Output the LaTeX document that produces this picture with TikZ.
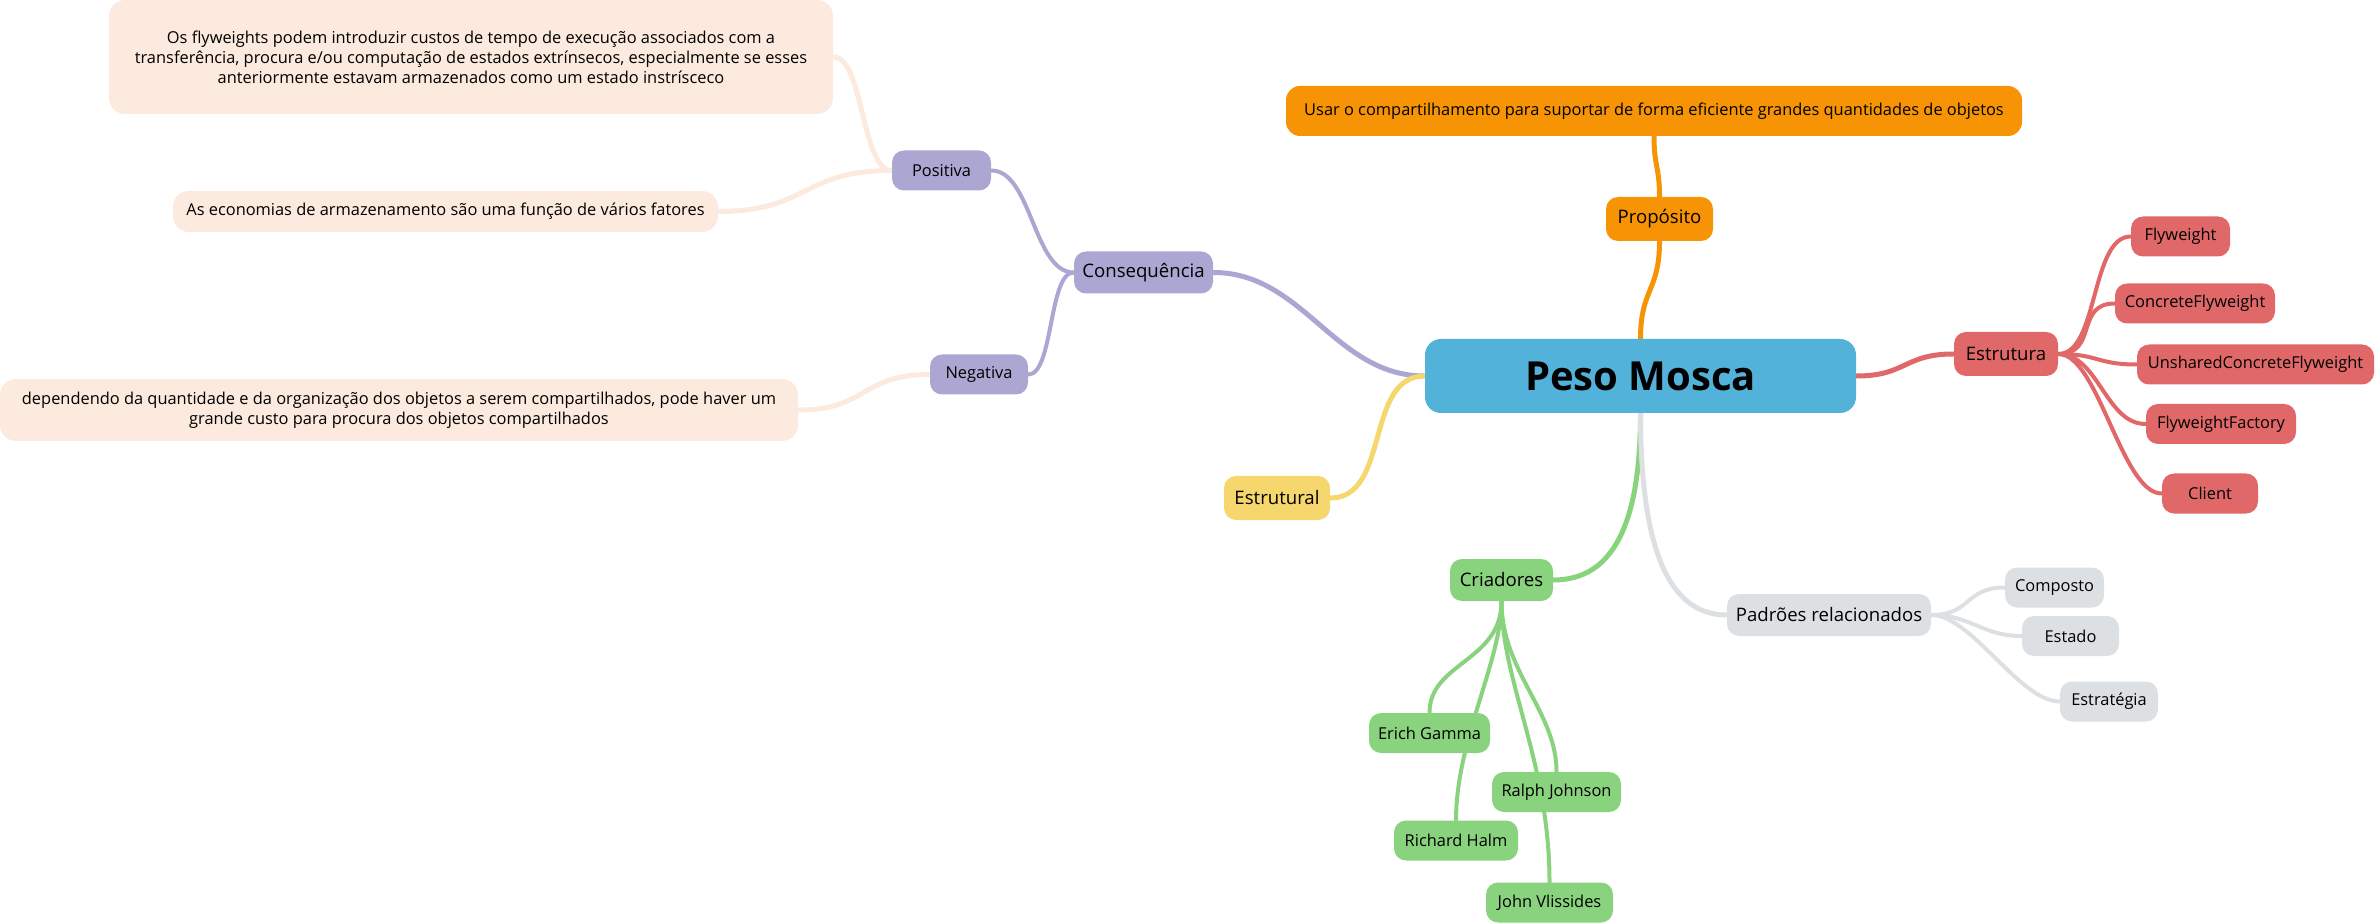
\documentclass[tikz,border=0pt]{standalone}
\usepackage{fontspec}
\setmainfont{Open Sans}
\usetikzlibrary{backgrounds}

\begin{document}
\begin{tikzpicture}[x=0.5pt, y=-0.5pt,
    box/.style={rounded corners=6pt, inner sep=0pt, text=black, align=center},
    topic/.style={box, minimum height=21pt, font=\fontsize{9.3}{11}\selectfont},
    leaf/.style={box, minimum height=20pt, font=\fontsize{8.2}{10}\selectfont},
    note/.style={box, rounded corners=8pt, fill=noteFill, font=\fontsize{8.2}{10}\selectfont},
    branch/.style={line width=2.5pt, line cap=round},
    twig/.style={line width=2pt, line cap=round}]

    % Define the colours
    \definecolor{centralFill}{RGB}{83,178,217}
    \definecolor{orangeFill}{RGB}{247,148,6}
    \definecolor{redFill}{RGB}{224,104,105}
    \definecolor{purpleFill}{RGB}{172,166,210}
    \definecolor{greenFill}{RGB}{138,211,126}
    \definecolor{greyFill}{RGB}{220,224,226}
    \definecolor{yellowFill}{RGB}{245,215,110}
    \definecolor{noteFill}{RGB}{253,234,222}

    % Fix the picture size
    \useasboundingbox (0,0) rectangle (2375,924);

    % Central topic
    \node[box, fill=centralFill, minimum width=215.5pt, minimum height=37pt, rounded corners=8pt,
          font=\fontsize{20}{24}\selectfont\bfseries] (central) at (1640.5,376) {Peso Mosca};

    % Purpose branch
    \node[topic, fill=orangeFill, minimum width=53.5pt, minimum height=22pt] (proposito) at (1659.5,219) {Propósito};
    \node[leaf, fill=orangeFill, minimum width=368pt, minimum height=25pt, rounded corners=7pt] (usar) at (1654,111)
        {Usar o compartilhamento para suportar de forma eficiente grandes quantidades de objetos};

    % Structure branch
    \node[topic, fill=redFill, minimum width=52pt, minimum height=22pt] (estrutura) at (2006,354) {Estrutura};
    \node[leaf, fill=redFill, minimum width=49.5pt] (flyweight) at (2180.5,236.5) {Flyweight};
    \node[leaf, fill=redFill, minimum width=80pt] (concrete) at (2195,303.5) {ConcreteFlyweight};
    \node[leaf, fill=redFill, minimum width=118.5pt] (unshared) at (2255.5,364.5) {UnsharedConcreteFlyweight};
    \node[leaf, fill=redFill, minimum width=75pt] (factory) at (2221,424) {FlyweightFactory};
    \node[leaf, fill=redFill, minimum width=48pt] (client) at (2210,493.5) {Client};

    % Related patterns branch
    \node[topic, fill=greyFill, minimum width=102pt] (padroes) at (1829,615) {Padrões relacionados};
    \node[leaf, fill=greyFill, minimum width=49.5pt] (composto) at (2054.5,587.5) {Composto};
    \node[leaf, fill=greyFill, minimum width=48.5pt] (estado) at (2070.5,636) {Estado};
    \node[leaf, fill=greyFill, minimum width=49pt] (estrategia) at (2109,701.5) {Estratégia};

    % Authors branch
    \node[topic, fill=greenFill, minimum width=51.5pt] (criadores) at (1501.5,580) {Criadores};
    \node[leaf, fill=greenFill, minimum width=60.5pt] (erich) at (1429.5,733) {Erich Gamma};
    \node[leaf, fill=greenFill, minimum width=64.5pt] (ralph) at (1556.5,792) {Ralph Johnson};
    \node[leaf, fill=greenFill, minimum width=62pt] (richard) at (1456,840.5) {Richard Halm};
    \node[leaf, fill=greenFill, minimum width=63.5pt] (john) at (1549.5,902.5) {John Vlissides};

    % Classification branch
    \node[topic, fill=yellowFill, minimum width=53pt, minimum height=22pt] (estrutural) at (1277,498) {Estrutural};

    % Consequences branch
    \node[topic, fill=purpleFill, minimum width=69.5pt] (consequencia) at (1143.5,272.5) {Consequência};
    \node[leaf, fill=purpleFill, minimum width=49.5pt] (positiva) at (941.5,170.5) {Positiva};
    \node[leaf, fill=purpleFill, minimum width=49pt] (negativa) at (979,374.5) {Negativa};
    \node[note, minimum width=362pt, minimum height=57pt] (custos) at (471,57)
        {Os flyweights podem introduzir custos de tempo de execução associados com a\\
         transferência, procura e/ou computação de estados extrínsecos, especialmente se esses\\
         anteriormente estavam armazenados como um estado instrísceco};
    \node[note, minimum width=272.5pt, minimum height=20.5pt] (economias) at (445.5,211.5)
        {As economias de armazenamento são uma função de vários fatores};
    \node[note, minimum width=399pt, minimum height=31pt] (procura) at (399,410)
        {dependendo da quantidade e da organização dos objetos a serem compartilhados, pode haver um\\
         grande custo para procura dos objetos compartilhados};

    \begin{scope}[on background layer]
        % Draw the main branches
        \draw[branch, orangeFill] (central.north) .. controls +(0,-50) and +(0,50) .. (proposito.south);
        \draw[branch, orangeFill] (proposito.north) .. controls +(0,-30) and +(0,30) .. (usar.south);
        \draw[branch, redFill] (central.east) .. controls +(50,0) and +(-50,0) .. (estrutura.west);
        \draw[branch, purpleFill] (central.west) .. controls +(-90,0) and +(90,0) .. (consequencia.east);
        \draw[branch, yellowFill] (central.west) .. controls +(-60,0) and +(60,0) .. (estrutural.east);
        \draw[branch, greenFill] (central.south) .. controls +(0,110) and +(60,0) .. (criadores.east);
        \draw[branch, greyFill] (central.south) .. controls +(0,130) and +(-60,0) .. (padroes.west);

        % Draw the structure twigs
        \foreach \leafName in {flyweight, concrete, unshared, factory, client}
            \draw[twig, redFill] (estrutura.east) .. controls +(40,0) and +(-40,0) .. (\leafName.west);

        % Draw the related pattern twigs
        \foreach \leafName in {composto, estado, estrategia}
            \draw[twig, greyFill] (padroes.east) .. controls +(40,0) and +(-40,0) .. (\leafName.west);

        % Draw the author twigs
        \draw[twig, greenFill] (criadores.south) .. controls +(0,60) and +(0,-50) .. (erich.north);
        \draw[twig, greenFill] (criadores.south) .. controls +(0,60) and +(0,-80) .. (richard.north);
        \draw[twig, greenFill] (criadores.south) .. controls +(0,70) and +(0,-60) .. (ralph.north);
        \draw[twig, greenFill] (criadores.south) .. controls +(0,80) and +(0,-120) .. (john.north);

        % Draw the consequence twigs
        \draw[twig, purpleFill] (consequencia.west) .. controls +(-40,0) and +(40,0) .. (positiva.east);
        \draw[twig, purpleFill] (consequencia.west) .. controls +(-25,0) and +(25,0) .. (negativa.east);
        \draw[branch, noteFill] (positiva.west) .. controls +(-30,0) and +(30,0) .. (custos.east);
        \draw[branch, noteFill] (positiva.west) .. controls +(-90,0) and +(90,0) .. (economias.east);
        \draw[branch, noteFill] (negativa.west) .. controls +(-70,0) and +(70,0) .. (procura.east);
    \end{scope}

\end{tikzpicture}
\end{document}
